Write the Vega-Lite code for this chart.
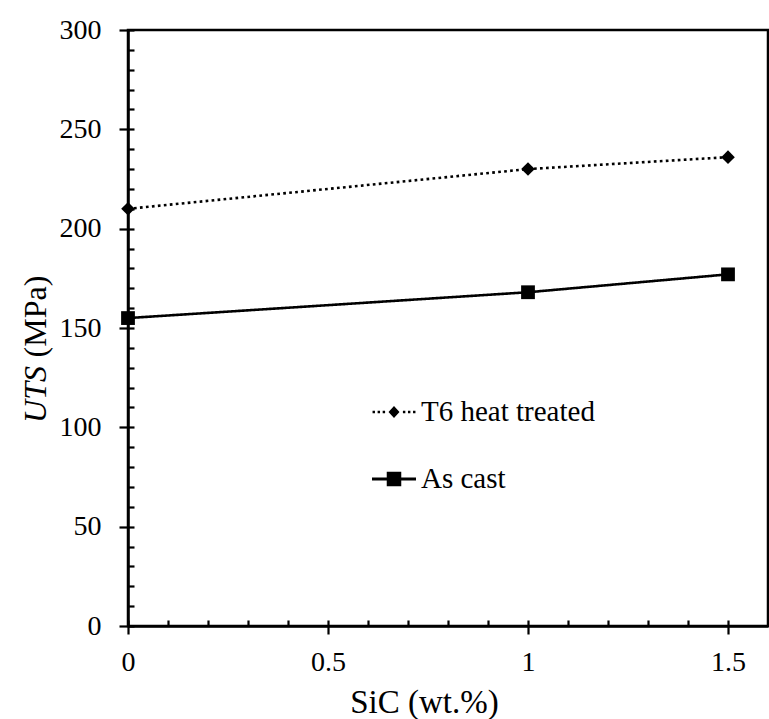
{
  "$schema": "https://vega.github.io/schema/vega-lite/v6.json",
  "autosize": {"type": "none"},
  "padding": {"left": 128, "top": 30, "right": 1, "bottom": 93},
  "width": 640,
  "height": 596,
  "background": "white",
  "config": {
    "font": "Liberation Serif",
    "view": {"stroke": "black", "strokeWidth": 2.5},
    "axis": {
      "grid": false,
      "domainColor": "black",
      "domainWidth": 2.5,
      "tickColor": "black",
      "tickWidth": 2.2,
      "labelColor": "black",
      "labelFont": "Liberation Serif",
      "labelFontSize": 28,
      "titleFont": "Liberation Serif",
      "titleColor": "black",
      "titleFontWeight": "normal",
      "titleFontSize": 32
    },
    "legend": {
      "orient": "none",
      "legendX": 244,
      "legendY": 360,
      "title": null,
      "padding": 0,
      "symbolSize": 1936,
      "symbolOpacity": 1,
      "symbolFillColor": "black",
      "symbolStrokeWidth": 0,
      "labelFont": "Liberation Serif",
      "labelFontSize": 29,
      "labelColor": "black",
      "labelOffset": 5,
      "labelLimit": 400,
      "rowPadding": 30
    }
  },
  "data": {
    "values": [
      {"sic": 0, "uts": 210, "series": "T6 heat treated"},
      {"sic": 1, "uts": 230, "series": "T6 heat treated"},
      {"sic": 1.5, "uts": 236, "series": "T6 heat treated"},
      {"sic": 0, "uts": 155, "series": "As cast"},
      {"sic": 1, "uts": 168, "series": "As cast"},
      {"sic": 1.5, "uts": 177, "series": "As cast"}
    ]
  },
  "layer": [
    {
      "mark": {"type": "line", "color": "black", "strokeWidth": 2.6, "strokeCap": "butt"},
      "encoding": {
        "x": {
          "field": "sic", "type": "quantitative",
          "scale": {"domain": [0, 1.6], "nice": false, "zero": false},
          "axis": {
            "orient": "bottom",
            "values": [0, 0.5, 1, 1.5],
            "format": "~g",
            "tickSize": 8,
            "labelPadding": 14,
            "labelFlush": false,
            "title": "SiC (wt.%)",
            "titleFontSize": 33,
            "titleX": 296,
            "titleY": 86,
            "titleAlign": "center",
            "titleBaseline": "alphabetic"
          }
        },
        "y": {
          "field": "uts", "type": "quantitative",
          "scale": {"domain": [0, 300], "nice": false},
          "axis": {
            "orient": "left",
            "values": [0, 50, 100, 150, 200, 250, 300],
            "tickSize": 9,
            "labelPadding": 18,
            "labelFlush": false,
            "title": "UTS",
            "titleFontStyle": "italic",
            "titleAngle": -90,
            "titleX": -83,
            "titleY": 364,
            "titleAlign": "center",
            "titleBaseline": "alphabetic"
          }
        },
        "detail": {"field": "series", "type": "nominal"},
        "strokeDash": {
          "field": "series", "type": "nominal",
          "scale": {"domain": ["T6 heat treated", "As cast"], "range": [[2.7, 3.3], [1, 0]]},
          "legend": {
            "orient": "none",
            "legendX": 244,
            "legendY": 360,
            "title": null,
            "padding": 0,
            "symbolSize": 1936,
            "symbolOpacity": 1,
            "symbolFillColor": "black",
            "symbolStrokeWidth": 0,
            "labelFont": "Liberation Serif",
            "labelFontSize": 29,
            "labelColor": "black",
            "labelOffset": 5,
            "labelLimit": 400,
            "rowPadding": 30
          }
        }
      }
    },
    {
      "transform": [{"filter": "datum.series === 'T6 heat treated'"}],
      "mark": {"type": "point", "shape": "diamond", "filled": true, "color": "black", "opacity": 1, "size": 185},
      "encoding": {
        "x": {
          "field": "sic", "type": "quantitative",
          "scale": {"domain": [0, 1.6], "nice": false, "zero": false},
          "axis": {
            "orient": "bottom",
            "values": [0, 0.1, 0.2, 0.3, 0.4, 0.5, 0.6, 0.7, 0.8, 0.9, 1, 1.1, 1.2, 1.3, 1.4, 1.5],
            "tickSize": -6,
            "labels": false,
            "domain": false,
            "title": null
          }
        },
        "y": {
          "field": "uts", "type": "quantitative",
          "scale": {"domain": [0, 300], "nice": false},
          "axis": {
            "orient": "left",
            "values": [0, 10, 20, 30, 40, 50, 60, 70, 80, 90, 100, 110, 120, 130, 140, 150, 160, 170, 180, 190, 200, 210, 220, 230, 240, 250, 260, 270, 280, 290, 300],
            "tickSize": -6,
            "labels": false,
            "domain": false,
            "title": "(MPa)",
            "titleAngle": -90,
            "titleX": -83,
            "titleY": 286,
            "titleAlign": "center",
            "titleBaseline": "alphabetic"
          }
        }
      }
    },
    {
      "transform": [{"filter": "datum.series === 'As cast'"}],
      "mark": {"type": "point", "shape": "square", "filled": true, "color": "black", "opacity": 1, "size": 190},
      "encoding": {
        "x": {"field": "sic", "type": "quantitative", "axis": null},
        "y": {"field": "uts", "type": "quantitative", "axis": null}
      }
    },
    {
      "mark": {"type": "point", "filled": true, "color": "black", "opacity": 0},
      "encoding": {
        "x": {"field": "sic", "type": "quantitative", "axis": null},
        "y": {"field": "uts", "type": "quantitative", "axis": null},
        "shape": {
          "field": "series", "type": "nominal",
          "scale": {
            "domain": ["T6 heat treated", "As cast"],
            "range": [
              "M-0.975,-0.055L-0.865,-0.055L-0.865,0.055L-0.975,0.055M-0.745,-0.055L-0.635,-0.055L-0.635,0.055L-0.745,0.055M-0.515,-0.055L-0.405,-0.055L-0.405,0.055L-0.515,0.055M0.405,-0.055L0.515,-0.055L0.515,0.055L0.405,0.055M0.635,-0.055L0.745,-0.055L0.745,0.055L0.635,0.055M0.865,-0.055L0.975,-0.055L0.975,0.055L0.865,0.055M0,-0.27L0.25,0L0,0.27L-0.25,0",
              "M-1,-0.07L1,-0.07L1,0.07L-1,0.07M-0.33,-0.33L0.33,-0.33L0.33,0.33L-0.33,0.33"
            ]
          },
          "legend": {
            "orient": "none",
            "legendX": 244,
            "legendY": 360,
            "title": null,
            "padding": 0,
            "symbolSize": 1936,
            "symbolOpacity": 1,
            "symbolFillColor": "black",
            "symbolStrokeWidth": 0,
            "labelFont": "Liberation Serif",
            "labelFontSize": 29,
            "labelColor": "black",
            "labelOffset": 5,
            "labelLimit": 400,
            "rowPadding": 30
          }
        }
      }
    }
  ],
  "resolve": {"axis": {"x": "independent", "y": "independent"}}
}
